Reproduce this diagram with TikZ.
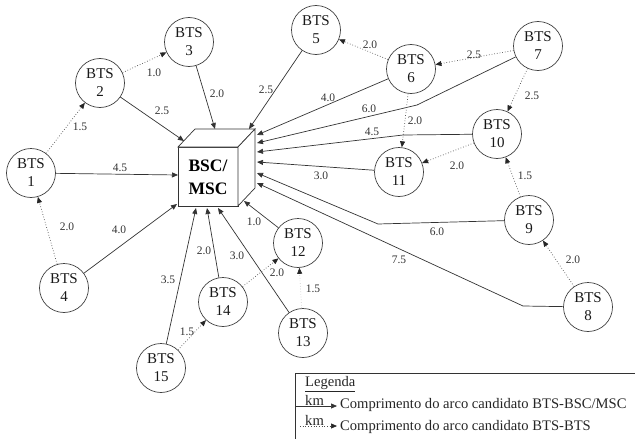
\documentclass[tikz,border=0pt]{standalone}
\usepackage{fontspec}
\setmainfont{Liberation Serif}
\usetikzlibrary{arrows.meta}
\begin{document}
\begin{tikzpicture}[x=1pt,y=-1pt,
  bts/.style={circle, draw=black!75, line width=0.7pt, minimum size=49pt,
    inner sep=0pt, align=center, text=black!90,
    font=\fontsize{15}{18}\selectfont},
  link/.style={draw=black!80, line width=0.7pt,
    -{Triangle[length=6pt,width=5pt]}},
  hop/.style={draw=black!70, line width=0.7pt, dotted,
    -{Triangle[length=6pt,width=5pt,color=black!85]}},
  km/.style={inner sep=0pt, text=black!80, font=\fontsize{11.5}{12}\selectfont},
  cubeface/.style={draw=black!80, line width=0.7pt, fill=white},
  legtext/.style={inner sep=0pt, anchor=west, text=black!85,
    font=\fontsize{14.6}{16}\selectfont},
]
\useasboundingbox (0,0) rectangle (635,439);

% BSC/MSC cube
\draw[cubeface] (178,147) rectangle (238,206);
\draw[cubeface] (178,147) -- (195,129) -- (255,129) -- (238,147) -- cycle;
\draw[cubeface] (238,147) -- (255,129) -- (255,188) -- (238,206) -- cycle;
\node[align=center, inner sep=0pt, font=\fontsize{17.5}{23}\selectfont\bfseries]
  (bsc) at (208,177) {BSC/\\MSC};

% arrival points on the cube
\coordinate (c1) at (178,175);
\coordinate (c2) at (184,141);
\coordinate (c3) at (215,129);
\coordinate (c5) at (249,129);
\coordinate (c6) at (257,135);
\coordinate (c7) at (257,143);
\coordinate (c10) at (257,152);
\coordinate (c11) at (257,162);
\coordinate (c9) at (257,173);
\coordinate (c8) at (257,183);
\coordinate (c4) at (177,204);
\coordinate (c15) at (196,208);
\coordinate (c14) at (207,208);
\coordinate (c13) at (218,208);
\coordinate (c12) at (244,201);

% bends of the long links
\coordinate (k7) at (417,105);
\coordinate (k10) at (403,135);
\coordinate (k9) at (378,224);
\coordinate (k8) at (523,306);

% base stations
\node[bts] (b1) at (31,173) {BTS\\1};
\node[bts] (b2) at (100,83) {BTS\\2};
\node[bts] (b3) at (189,42) {BTS\\3};
\node[bts] (b4) at (64,288) {BTS\\4};
\node[bts] (b5) at (316,30) {BTS\\5};
\node[bts] (b6) at (411,69) {BTS\\6};
\node[bts] (b7) at (538,46) {BTS\\7};
\node[bts] (b8) at (588,307) {BTS\\8};
\node[bts] (b9) at (529,220) {BTS\\9};
\node[bts] (b10) at (497,134) {BTS\\10};
\node[bts] (b11) at (399,172) {BTS\\11};
\node[bts] (b12) at (298,243) {BTS\\12};
\node[bts] (b13) at (303,333) {BTS\\13};
\node[bts] (b14) at (223,302) {BTS\\14};
\node[bts] (b15) at (161,368) {BTS\\15};

% candidate arcs BTS - BSC/MSC
\draw[link] (b1) -- (c1);
\draw[link] (b2) -- (c2);
\draw[link] (b3) -- (c3);
\draw[link] (b5) -- (c5);
\draw[link] (b6) -- (c6);
\draw[link] (b7) -- (k7) -- (c7);
\draw[link] (b10) -- (k10) -- (c10);
\draw[link] (b11) -- (c11);
\draw[link] (b9) -- (k9) -- (c9);
\draw[link] (b8) -- (k8) -- (c8);
\draw[link] (b4) -- (c4);
\draw[link] (b15) -- (c15);
\draw[link] (b14) -- (c14);
\draw[link] (b13) -- (c13);
\draw[link] (b12) -- (c12);

% candidate arcs BTS - BTS
\draw[hop] (b1) -- (b2);
\draw[hop] (b2) -- (b3);
\draw[hop] (b4) -- (b1);
\draw[hop] (b6) -- (b5);
\draw[hop] (b7) -- (b6);
\draw[hop] (b7) -- (b10);
\draw[hop] (b6) -- (b11);
\draw[hop] (b10) -- (b11);
\draw[hop] (b9) -- (b10);
\draw[hop] (b8) -- (b9);
\draw[hop] (b14) -- (b12);
\draw[hop, draw=black!20] (b13) -- (b12);
\draw[hop] (b15) -- (b14);

% distances (km)
\node[km] (l1) at (120,168) {4.5};
\node[km] (l2) at (80,127) {1.5};
\node[km] (l3) at (162,111) {2.5};
\node[km] (l4) at (154,73) {1.0};
\node[km] (l5) at (217,94) {2.0};
\node[km] (l6) at (266,90) {2.5};
\node[km] (l7) at (328,98) {4.0};
\node[km] (l8) at (369,109) {6.0};
\node[km] (l9) at (372,132) {4.5};
\node[km] (l10) at (321,176) {3.0};
\node[km] (l11) at (370,45) {2.0};
\node[km] (l12) at (474,55) {2.5};
\node[km] (l13) at (532,96) {2.5};
\node[km] (l14) at (415,121) {2.0};
\node[km] (l15) at (457,166) {2.0};
\node[km] (l16) at (525,176) {1.5};
\node[km] (l17) at (437,232) {6.0};
\node[km] (l18) at (399,260) {7.5};
\node[km] (l19) at (573,260) {2.0};
\node[km] (l20) at (67,227) {2.0};
\node[km] (l21) at (119,230) {4.0};
\node[km] (l22) at (168,280) {3.5};
\node[km] (l23) at (204,251) {2.0};
\node[km] (l24) at (237,256) {3.0};
\node[km] (l25) at (254,222) {1.0};
\node[km] (l26) at (277,273) {2.0};
\node[km] (l27) at (313,289) {1.5};
\node[km] (l28) at (187,332) {1.5};

% legend
\draw[draw=black!80, line width=0.7pt] (635,373) -- (295,373) -- (295,439);
\node[legtext] (leg) at (305,384) {\underline{Legenda}};
\coordinate (s0) at (295,406);
\coordinate (s1) at (337,406);
\coordinate (d0) at (300,426);
\coordinate (d1) at (337,426);
\draw[link] (s0) -- (s1);
\draw[hop] (d0) -- (d1);
\node[legtext] (kma) at (305,400) {km};
\node[legtext] (kmb) at (305,420) {km};
\node[legtext] (lega) at (340,405) {Comprimento do arco candidato BTS-BSC/MSC};
\node[legtext] (legb) at (340,427) {Comprimento do arco candidato BTS-BTS};
\end{tikzpicture}
\end{document}
